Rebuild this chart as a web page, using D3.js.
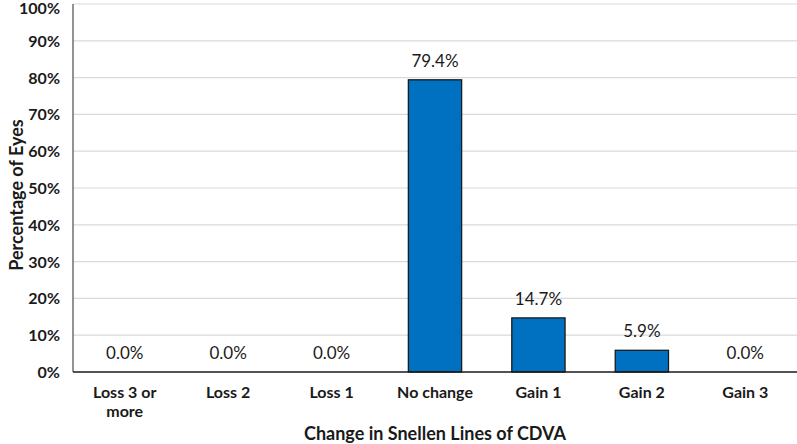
<!DOCTYPE html>
<html>
<head>
<meta charset="utf-8">
<script src="https://cdn.jsdelivr.net/npm/d3@7"></script>
<style>
  body { margin: 0; background: #fff; }
  text { font-family: Lato, "Open Sans", sans-serif; }
</style>
</head>
<body>
<svg id="chart" width="797" height="444"></svg>
<script>
// MARK: Data.

const categories = [['Loss 3 or', 'more'], ['Loss 2'], ['Loss 1'], ['No change'], ['Gain 1'], ['Gain 2'], ['Gain 3']]
const values     = [0.0, 0.0, 0.0, 79.4, 14.7, 5.9, 0.0]
const yTicks     = [0, 10, 20, 30, 40, 50, 60, 70, 80, 90, 100]

// MARK: Layout.

const margin = { top: 4, right: 0, bottom: 72, left: 73 }
const W = 797, H = 444

const svg = d3.select('#chart')

const x = d3.scaleBand()
  .domain(categories.map((c) => c.join(' ')))
  .range([margin.left, W - margin.right])
  .paddingInner(0.485)
  .paddingOuter(0.2425)

const y = d3.scaleLinear()
  .domain([0, 100])
  .range([H - margin.bottom, margin.top])

// Gridlines
svg.append('g')
  .selectAll('line')
  .data(yTicks.filter((t) => t > 0))
  .enter().append('line')
  .attr('x1', margin.left)
  .attr('x2', W - margin.right)
  .attr('y1', (d) => y(d))
  .attr('y2', (d) => y(d))
  .attr('stroke', '#d9d9d9')
  .attr('stroke-width', 1.2)

// Y tick labels (the top one is nudged down so it stays on the page)
svg.append('g')
  .selectAll('text')
  .data(yTicks)
  .enter().append('text')
  .attr('x', 60)
  .attr('y', (d) => Math.max(y(d) + 6, 14))
  .attr('text-anchor', 'end')
  .attr('font-size', 16)
  .attr('font-weight', 'bold')
  .attr('fill', '#1a1a1a')
  .text((d) => d + '%')

// Bars
svg.append('g')
  .selectAll('rect')
  .data(values)
  .enter().append('rect')
  .attr('x', (d, i) => x(categories[i].join(' ')))
  .attr('y', (d) => y(d))
  .attr('width', x.bandwidth())
  .attr('height', (d) => y(0) - y(d))
  .attr('fill', '#0070c0')
  .attr('stroke', '#1a1a1a')
  .attr('stroke-width', (d) => d > 0 ? 1.3 : 0)

// Value labels
svg.append('g')
  .selectAll('text')
  .data(values)
  .enter().append('text')
  .attr('x', (d, i) => x(categories[i].join(' ')) + x.bandwidth() / 2)
  .attr('y', (d) => y(d) - 13)
  .attr('text-anchor', 'middle')
  .attr('font-size', 17)
  .attr('fill', '#1a1a1a')
  .text((d) => d.toFixed(1) + '%')

// Axes lines
svg.append('line')
  .attr('x1', margin.left).attr('x2', margin.left)
  .attr('y1', margin.top).attr('y2', y(0))
  .attr('stroke', '#595959').attr('stroke-width', 1.3)
svg.append('line')
  .attr('x1', margin.left).attr('x2', W - margin.right)
  .attr('y1', y(0)).attr('y2', y(0))
  .attr('stroke', '#1a1a1a').attr('stroke-width', 1.5)

// Category labels
const catLabels = svg.append('g')
  .selectAll('text')
  .data(categories)
  .enter().append('text')
  .attr('x', (d) => x(d.join(' ')) + x.bandwidth() / 2)
  .attr('y', 398)
  .attr('text-anchor', 'middle')
  .attr('font-size', 16)
  .attr('font-weight', 'bold')
  .attr('fill', '#1a1a1a')
catLabels.selectAll('tspan')
  .data((d) => d)
  .enter().append('tspan')
  .attr('x', function () { return d3.select(this.parentNode).attr('x') })
  .attr('dy', (d, i) => i === 0 ? 0 : 19)
  .text((d) => d)

// Axis titles
svg.append('text')
  .attr('x', (margin.left + W - margin.right) / 2)
  .attr('y', 440)
  .attr('text-anchor', 'middle')
  .attr('font-size', 18)
  .attr('font-weight', 'bold')
  .attr('fill', '#1a1a1a')
  .text('Change in Snellen Lines of CDVA')

svg.append('text')
  .attr('transform', 'translate(23,195) rotate(-90)')
  .attr('text-anchor', 'middle')
  .attr('font-size', 18)
  .attr('font-weight', 'bold')
  .attr('fill', '#1a1a1a')
  .text('Percentage of Eyes')
</script>
</body>
</html>
